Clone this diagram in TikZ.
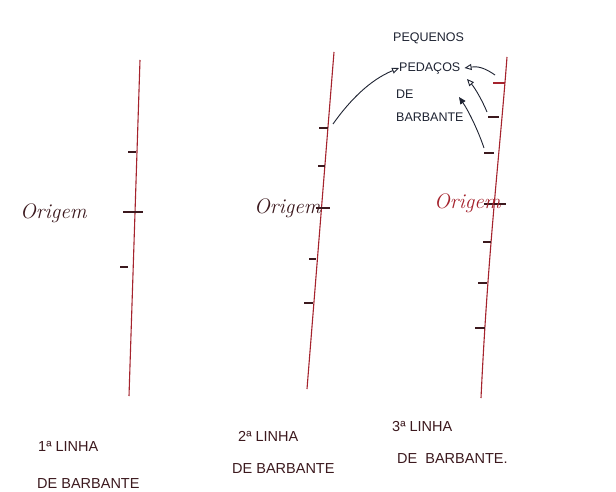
\documentclass[tikz,border=0pt]{standalone}
\usepackage{fontspec}
\newfontfamily\printfont{Liberation Sans}
\usetikzlibrary{arrows.meta}
\definecolor{twine}{RGB}{165,35,45}
\definecolor{ink}{RGB}{60,25,30}
\definecolor{bluink}{RGB}{30,35,50}
\begin{document}
\begin{tikzpicture}[x=1pt,y=-1pt,
  twineline/.style={draw=twine,line width=1.1pt},
  tick/.style={draw=ink,line width=1.1pt},
  origin/.style={font=\fontsize{21}{24}\selectfont\itshape,text=ink,inner sep=0pt},
  caps/.style={font=\printfont\fontsize{14.5}{16}\selectfont,text=ink,inner sep=0pt,anchor=west},
  note/.style={font=\printfont\fontsize{12.5}{14}\selectfont,text=bluink,inner sep=0pt,anchor=west},
  pointer/.style={draw=bluink,line width=0.9pt,-{Triangle[open,length=7pt,width=6pt]}}]
\fill[white] (0,0) rectangle (616,492);
\useasboundingbox (0,0) rectangle (616,492);

% ---- first string ----
\coordinate (a1) at (140,60);
\coordinate (a2) at (129,396);
\draw[twineline] (a1) -- (a2);
\draw[tick] (128,152) -- (136,152);
\draw[tick] (123,212) -- (143,212);
\draw[tick] (120,267) -- (128,267);
\node[origin,anchor=west] (o1) at (20,213) {Origem};

% ---- second string ----
\coordinate (b1) at (334,52);
\coordinate (b2) at (307,389);
\draw[twineline] (b1) -- (b2);
\draw[tick] (319,128) -- (328,128);
\draw[tick] (318,166) -- (325,166);
\draw[tick] (316,208) -- (330,208);
\draw[tick] (309,259) -- (316,259);
\draw[tick] (304,303) -- (313,303);
\node[origin,anchor=west] (o2) at (254,208) {Origem};

% ---- third string ----
\coordinate (c1) at (507,57);
\coordinate (c2) at (481,398);
\draw[twineline] (c1) .. controls (500,150) and (488,250) .. (c2);
\draw[twine,line width=1.2pt] (493,83) -- (505,83);
\draw[tick] (488,117) -- (499,117);
\draw[tick] (484,153) -- (494,153);
\draw[tick] (484,204) -- (506,204);
\draw[tick] (483,242) -- (491,242);
\draw[tick] (478,283) -- (487,283);
\draw[tick] (475,328) -- (485,328);
\node[origin,anchor=west,text=twine] (o3) at (434,203) {Origem};

% ---- label for the small pieces ----
\node[note] (n1) at (393,38) {PEQUENOS};
\node[note] (n2) at (399,68) {PEDAÇOS};
\node[note] (n3) at (396,94) {DE};
\node[note] (n4) at (396,117) {BARBANTE};

\coordinate (p0) at (333,124);
\coordinate (p1) at (495,75);
\coordinate (p2) at (487,112);
\coordinate (p3) at (484,148);
\draw[pointer] (p0) .. controls (350,100) and (370,80) .. (n2.west);
\draw[pointer] (p1) .. controls (485,68) and (478,66) .. ([xshift=4pt]n2.east);
\draw[pointer] (p2) .. controls (482,100) and (475,88) .. (467,79);
\draw[pointer,-{Triangle[length=7pt,width=6pt]}] (p3) .. controls (478,130) and (468,110) .. (459,97);

% ---- captions ----
\node[caps] (l1) at (38,446) {1ª LINHA};
\node[caps] (d1) at (37,484) {DE BARBANTE};
\node[caps] (l2) at (238,436) {2ª LINHA};
\node[caps] (d2) at (232,469) {DE BARBANTE};
\node[caps] (l3) at (392,426) {3ª LINHA};
\node[caps] (d3) at (397,459) {DE \ BARBANTE.};
\end{tikzpicture}
\end{document}
